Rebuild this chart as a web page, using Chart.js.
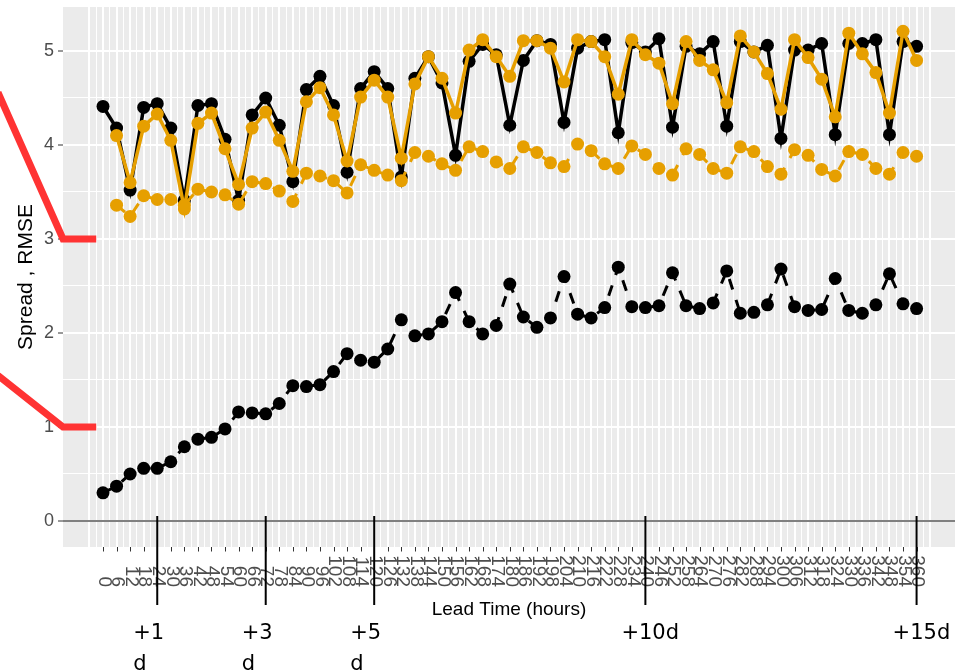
<!DOCTYPE html>
<html>
<head>
<meta charset="utf-8">
<script src="https://cdn.jsdelivr.net/npm/chart.js@4.4.1/dist/chart.umd.min.js"></script>
<style>
html,body{margin:0;padding:0;background:#ffffff;overflow:hidden}
canvas{display:block}
</style>
</head>
<body>
<canvas id="chart" width="955" height="671"></canvas>
<script>
// ---------------- data ----------------
const leadHours = [0,6,12,18,24,30,36,42,48,54,60,66,72,78,84,90,96,102,108,114,120,126,132,138,144,150,156,162,168,174,180,186,192,198,204,210,216,222,228,234,240,246,252,258,264,270,276,282,288,294,300,306,312,318,324,330,336,342,348,354,360];
const xTickLabels = ['0','6','12','18','24','30','36','42','48','54','60','66','72','78','84','90','96','102','108','114','120','126','132','138','144','150','156','162','168','174','180','186','192','198','204','210','216','222','228','234','240','246','252','258','264','270','276','282','288','294','300','306','312','318','324','330','336','342','348','354','360'];

// RMSE, black model (solid)
const rmseBlack = [4.41,4.18,3.52,4.40,4.44,4.18,3.41,4.42,4.44,4.06,3.41,4.32,4.50,4.21,3.61,4.59,4.73,4.42,3.71,4.60,4.78,4.60,3.66,4.71,4.94,4.66,3.89,4.89,5.07,4.96,4.21,4.90,5.11,5.07,4.24,5.03,5.10,5.12,4.13,5.09,4.99,5.13,4.19,5.05,4.97,5.10,4.20,5.10,4.99,5.06,4.07,5.01,5.01,5.08,4.11,5.08,5.08,5.12,4.11,5.10,5.05];
// RMSE, orange model (solid)
const rmseOrange = [null,4.10,3.60,4.20,4.33,4.05,3.32,4.23,4.34,3.96,3.58,4.18,4.35,4.05,3.72,4.46,4.61,4.32,3.83,4.51,4.69,4.51,3.86,4.65,4.94,4.71,4.34,5.01,5.12,4.94,4.73,5.11,5.11,5.03,4.67,5.12,5.10,4.94,4.54,5.12,4.96,4.87,4.44,5.10,4.90,4.80,4.45,5.16,4.99,4.76,4.38,5.12,4.93,4.70,4.30,5.19,4.97,4.77,4.34,5.21,4.90];
// Spread, orange model (dashed)
const spreadOrange = [null,3.36,3.24,3.46,3.42,3.42,3.36,3.53,3.50,3.47,3.37,3.61,3.59,3.51,3.40,3.70,3.67,3.62,3.49,3.79,3.73,3.68,3.62,3.92,3.88,3.80,3.73,3.98,3.93,3.82,3.75,3.98,3.92,3.81,3.77,4.01,3.94,3.80,3.75,3.99,3.90,3.75,3.68,3.96,3.90,3.75,3.70,3.98,3.93,3.77,3.69,3.95,3.89,3.74,3.67,3.93,3.90,3.75,3.69,3.92,3.88];
// Spread, black model (dashed)
const spreadBlack = [0.30,0.37,0.50,0.56,0.56,0.63,0.79,0.87,0.89,0.98,1.16,1.15,1.14,1.25,1.44,1.43,1.45,1.59,1.78,1.71,1.69,1.83,2.14,1.97,1.99,2.12,2.43,2.12,1.99,2.08,2.52,2.17,2.06,2.16,2.60,2.20,2.16,2.27,2.70,2.28,2.27,2.29,2.64,2.29,2.26,2.32,2.66,2.21,2.22,2.30,2.68,2.28,2.24,2.25,2.58,2.24,2.21,2.30,2.63,2.31,2.26];

const yTickValues = [0,1,2,3,4,5];
const yTickLabels = ['0','1','2','3','4','5'];

const dayMarkHours = [24,72,120,240,360];
const dayMarkLabels = [['+1','d'],['+3','d'],['+5','d'],['+10d'],['+15d']];
const arrowTargets = [3,1];

const xTitle = 'Lead Time (hours)';
const yTitle = 'Spread , RMSE';

// ---------------- styling ----------------
const ORANGE = '#E69F00';
const BLACK = '#000000';
const PANEL = '#EBEBEB';
const FONT = "'Liberation Sans', Arial, sans-serif";

const toXY = arr => arr.map((v, i) => ({ x: leadHours[i], y: v }));

const xGridHours = [];
for (let h = -6; h <= 366; h += 3) xGridHours.push(h);
const yGridValues = [];
for (let v = 0; v <= 5.001; v += 0.5) yGridValues.push(Math.round(v * 10) / 10);

function seriesStyle(color, dashed) {
  return {
    borderColor: color,
    backgroundColor: color,
    borderWidth: dashed ? 3 : 3.5,
    borderDash: dashed ? [11, 11] : [],
    pointRadius: 6.5,
    pointHoverRadius: 6.5,
    pointBorderWidth: 0,
    pointBackgroundColor: color,
    tension: 0,
    fill: false
  };
}

const decorPlugin = {
  id: 'decor',
  beforeDraw(chart) {
    const { ctx, chartArea: a } = chart;
    ctx.save();
    ctx.fillStyle = '#ffffff';
    ctx.fillRect(0, 0, chart.width, chart.height);
    ctx.fillStyle = PANEL;
    ctx.fillRect(a.left, a.top, a.right - a.left, a.bottom - a.top);
    ctx.restore();
  },
  beforeDatasetsDraw(chart) {
    const { ctx, chartArea: a } = chart;
    const y0 = chart.scales.y.getPixelForValue(0);
    ctx.save();
    ctx.strokeStyle = '#808080';
    ctx.lineWidth = 2;
    ctx.beginPath();
    ctx.moveTo(a.left, y0);
    ctx.lineTo(a.right, y0);
    ctx.stroke();
    ctx.restore();
  },
  afterDraw(chart) {
    const { ctx, chartArea: a } = chart;
    const xs = chart.scales.x, ys = chart.scales.y;
    ctx.save();

    // x tick marks
    ctx.strokeStyle = '#333333';
    ctx.lineWidth = 1;
    leadHours.forEach(h => {
      const x = Math.round(xs.getPixelForValue(h)) + 0.5;
      ctx.beginPath();
      ctx.moveTo(x, a.bottom);
      ctx.lineTo(x, a.bottom + 4.5);
      ctx.stroke();
    });

    // x tick labels, rotated clockwise, reading top to bottom
    ctx.fillStyle = '#4D4D4D';
    ctx.font = '19px ' + FONT;
    ctx.textAlign = 'right';
    ctx.textBaseline = 'middle';
    leadHours.forEach((h, i) => {
      const x = xs.getPixelForValue(h);
      ctx.save();
      ctx.translate(x + 1, a.bottom + 40);
      ctx.rotate(Math.PI / 2);
      ctx.fillText(xTickLabels[i], 0, 0);
      ctx.restore();
    });

    // axis titles
    ctx.fillStyle = '#000000';
    ctx.font = '19px ' + FONT;
    ctx.textAlign = 'center';
    ctx.textBaseline = 'alphabetic';
    ctx.fillText(xTitle, (a.left + a.right) / 2, a.bottom + 68);

    ctx.save();
    ctx.font = '21px ' + FONT;
    ctx.translate(32, (a.top + a.bottom) / 2);
    ctx.rotate(-Math.PI / 2);
    ctx.textAlign = 'center';
    ctx.fillText(yTitle, 0, 0);
    ctx.restore();

    // day marker lines and labels
    const y0 = ys.getPixelForValue(0);
    ctx.strokeStyle = '#000000';
    ctx.lineWidth = 2;
    ctx.font = "21px 'DejaVu Sans', sans-serif";
    ctx.textAlign = 'left';
    ctx.textBaseline = 'alphabetic';
    dayMarkHours.forEach((h, i) => {
      const x = xs.getPixelForValue(h);
      ctx.beginPath();
      ctx.moveTo(x, y0 - 5);
      ctx.lineTo(x, a.bottom + 58);
      ctx.stroke();
      dayMarkLabels[i].forEach((t, k) => {
        ctx.fillText(t, x - 24, a.bottom + 92 + k * 31);
      });
    });

    // red pointer lines on the left
    ctx.strokeStyle = '#FF3333';
    ctx.lineWidth = 7;
    ctx.lineJoin = 'miter';
    ctx.lineCap = 'butt';
    const rises = [142, 50];
    arrowTargets.forEach((v, i) => {
      const y = ys.getPixelForValue(v);
      ctx.beginPath();
      ctx.moveTo(-2, y - rises[i] - 2 * rises[i] / a.left);
      ctx.lineTo(a.left, y);
      ctx.lineTo(xs.getPixelForValue(-3), y);
      ctx.stroke();
    });

    ctx.restore();
  }
};

Chart.defaults.font.family = FONT;

new Chart(document.getElementById('chart').getContext('2d'), {
  type: 'line',
  data: {
    datasets: [
      Object.assign({ label: 'RMSE (orange)', data: toXY(rmseOrange) }, seriesStyle(ORANGE, false)),
      Object.assign({ label: 'Spread (orange)', data: toXY(spreadOrange) }, seriesStyle(ORANGE, true)),
      Object.assign({ label: 'RMSE (black)', data: toXY(rmseBlack) }, seriesStyle(BLACK, false)),
      Object.assign({ label: 'Spread (black)', data: toXY(spreadBlack) }, seriesStyle(BLACK, true))
    ]
  },
  options: {
    responsive: false,
    animation: false,
    devicePixelRatio: 1,
    layout: { autoPadding: false, padding: { left: 0, right: 0, top: 7, bottom: 124 } },
    plugins: { legend: { display: false }, tooltip: { enabled: false } },
    events: [],
    scales: {
      x: {
        type: 'linear',
        min: -17.7,
        max: 377,
        border: { display: false },
        ticks: { display: false },
        afterBuildTicks: s => { s.ticks = xGridHours.map(v => ({ value: v })); },
        afterFit: s => { s.height = 0; s.paddingLeft = 0; s.paddingRight = 0; },
        grid: {
          drawTicks: false,
          color: '#FFFFFF',
          lineWidth: c => (c.tick && c.tick.value % 6 === 0) ? 2 : 1
        }
      },
      y: {
        type: 'linear',
        min: -0.2766,
        max: 5.468,
        border: { display: false },
        afterBuildTicks: s => { s.ticks = yGridValues.map(v => ({ value: v })); },
        afterFit: s => { s.width = 63; s.paddingTop = 0; s.paddingBottom = 0; },
        ticks: {
          autoSkip: false,
          padding: 4,
          color: '#4D4D4D',
          font: { family: FONT, size: 18 },
          callback: v => { const k = yTickValues.indexOf(v); return k >= 0 ? yTickLabels[k] : ''; }
        },
        grid: {
          color: '#FFFFFF',
          lineWidth: c => (c.tick && Number.isInteger(c.tick.value)) ? 2 : 1,
          drawTicks: true,
          tickLength: 5,
          tickWidth: 1,
          tickColor: c => (c.tick && Number.isInteger(c.tick.value)) ? '#333333' : 'rgba(0,0,0,0)'
        }
      }
    }
  },
  plugins: [decorPlugin]
});
</script>
</body>
</html>
